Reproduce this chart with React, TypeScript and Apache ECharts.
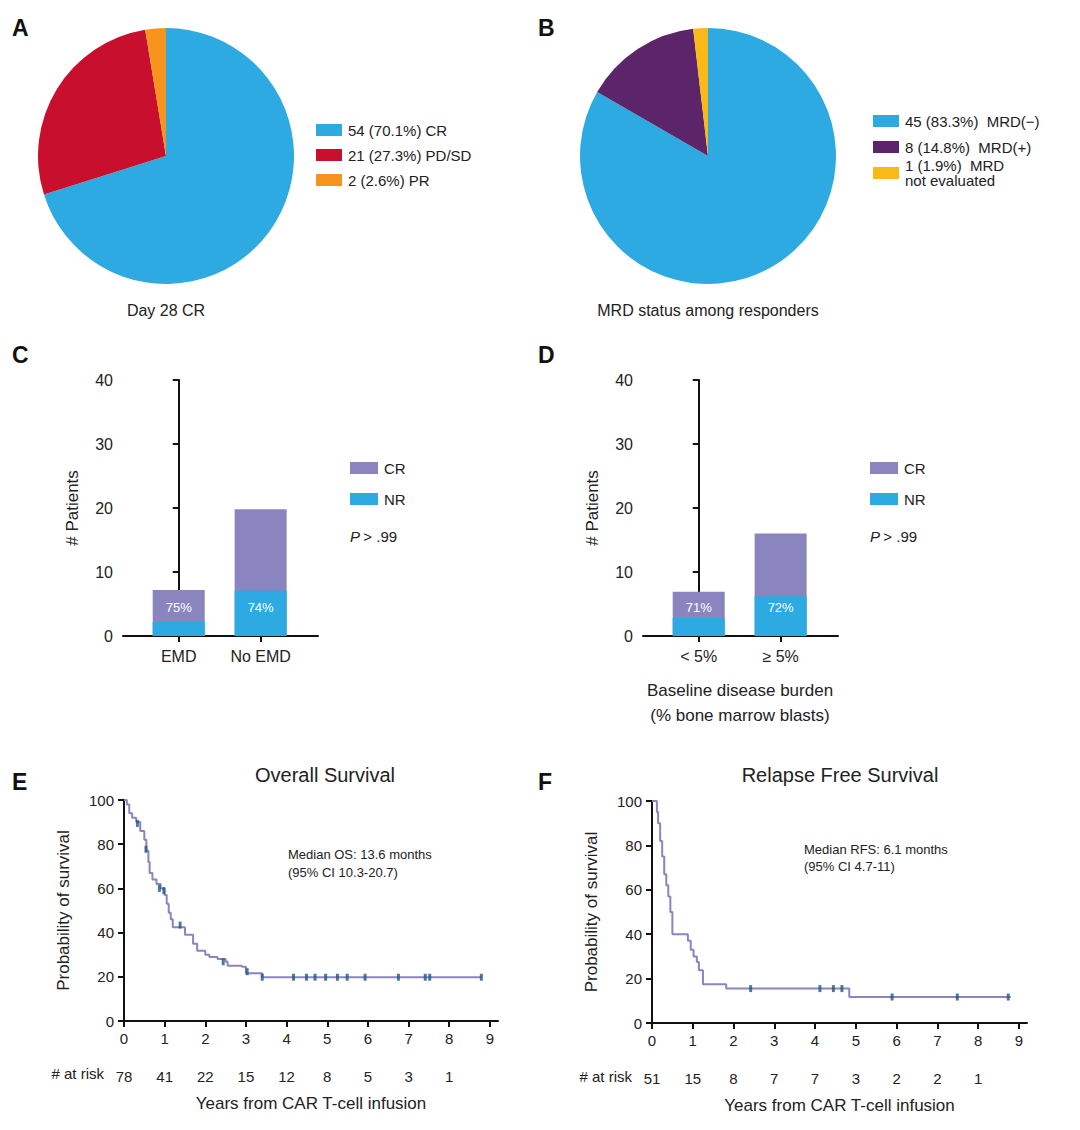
import React, { useEffect, useRef } from 'react';
import * as echarts from 'echarts';

const crNames = ['CR', 'PD/SD', 'PR'];
const crCounts = [54, 21, 2];
const crPct = ['70.1%', '27.3%', '2.6%'];
const mrdNames = ['MRD(\u2212)', 'MRD(+)', 'MRD\nnot evaluated'];
const mrdCounts = [45, 8, 1];
const mrdPct = ['83.3%', '14.8%', '1.9%'];

const emdCats = ['EMD', 'No EMD'];
const emdCR = [7.2, 19.8];
const emdNR = [2.2, 7.1];
const emdPctLabel = ['75%', '74%'];
const burdenCats = ['< 5%', '\u2265 5%'];
const burdenCR = [6.9, 16];
const burdenNR = [2.8, 6.2];
const burdenPctLabel = ['71%', '72%'];

const osCurve = [[0, 100], [0.07, 98], [0.13, 94], [0.2, 92], [0.3, 90], [0.4, 86], [0.5, 82], [0.55, 77], [0.6, 72], [0.63, 67], [0.7, 64], [0.8, 62], [0.9, 60], [1.0, 57], [1.05, 53], [1.1, 49], [1.15, 46], [1.2, 42.4], [1.45, 42.4], [1.5, 39], [1.7, 35], [1.8, 31.8], [2.0, 30], [2.1, 29], [2.3, 28], [2.5, 26.8], [2.55, 25], [2.9, 24.6], [3.0, 21.6], [3.4, 19.8], [8.8, 19.8]];
const osCensor = [[0.33, 89.4], [0.54, 77.7], [0.87, 60], [0.98, 59], [1.38, 43.4], [2.44, 26.8], [3.03, 22.3], [3.4, 19.8], [4.17, 19.8], [4.49, 19.8], [4.7, 19.8], [4.96, 19.8], [5.25, 19.8], [5.49, 19.8], [5.93, 19.8], [6.75, 19.8], [7.41, 19.8], [7.52, 19.8], [8.79, 19.8]];
const osRisk = ['78', '41', '22', '15', '12', '8', '5', '3', '1'];

const rfsCurve = [[0, 100], [0.1, 100], [0.12, 95], [0.15, 90], [0.2, 82], [0.25, 75], [0.3, 67], [0.35, 62], [0.4, 57], [0.45, 50], [0.5, 40], [0.8, 40], [0.88, 37], [0.95, 33], [1.02, 30], [1.1, 27.5], [1.15, 23.8], [1.25, 17.4], [1.8, 17.4], [1.82, 15.5], [4.82, 15.5], [4.84, 11.7], [8.8, 11.7]];
const rfsCensor = [[2.42, 15.5], [4.12, 15.5], [4.45, 15.5], [4.66, 15.5], [5.89, 11.7], [7.49, 11.7], [8.74, 11.7]];
const rfsRisk = ['51', '15', '8', '7', '7', '3', '2', '2', '1'];

const BLUE = '#2eaae2';
const RED = '#c8102e';
const ORANGE = '#f7941d';
const PURPLE = '#5c2569';
const YELLOW = '#fbb917';
const LAV = '#8a84bf';
const FONT = '"Liberation Sans", Arial, sans-serif';
const NARROW = '"Liberation Sans Narrow", "Liberation Sans", Arial, sans-serif';

function txt(x: number, y: number, text: string, extra: any = {}) {
  return { type: 'text', x, y, style: { text, fill: '#222', font: `15px ${FONT}`, ...extra } };
}

function legendItem(x: number, y: number, color: string, label: string, w = 26, h = 12) {
  return [
    { type: 'rect', shape: { x, y: y - h / 2, width: w, height: h }, style: { fill: color } },
    txt(x + w + 6, y, label, { textVerticalAlign: 'middle' }),
  ];
}

export default function App() {
  const ref = useRef<HTMLDivElement | null>(null);

  useEffect(() => {
    if (!ref.current) return;
    const chart = echarts.init(ref.current, undefined, { renderer: 'svg' });

    const barX = (gi: number, cats: string[]) => ({
      gridIndex: gi, type: 'value', min: -0.68, max: 1.7,
      axisLine: { lineStyle: { color: '#111', width: 2 } },
      axisTick: { customValues: [0, 1], length: 6, lineStyle: { color: '#111', width: 2 } },
      axisLabel: { customValues: [0, 1], formatter: (v: number) => cats[Math.round(v)], color: '#222', fontSize: 16, fontFamily: FONT, margin: 12 },
      splitLine: { show: false },
    });
    const barY = (gi: number) => ({
      gridIndex: gi, type: 'value', min: 0, max: 40, interval: 10,
      name: '# Patients', nameLocation: 'middle', nameGap: 42,
      nameTextStyle: { fontSize: 17, fontFamily: NARROW, color: '#222' },
      axisLine: { show: true, lineStyle: { color: '#111', width: 2 } },
      axisTick: { show: true, length: 6, lineStyle: { color: '#111', width: 2 } },
      axisLabel: { color: '#222', fontSize: 16, fontFamily: FONT, margin: 10 },
      splitLine: { show: false },
    });
    const kmX = (gi: number) => ({
      gridIndex: gi, type: 'value', min: 0, max: 9.2, interval: 1,
      axisLine: { lineStyle: { color: '#111', width: 2 } },
      axisTick: { length: 6, lineStyle: { color: '#111', width: 2 } },
      axisLabel: { color: '#222', fontSize: 15, fontFamily: FONT, margin: 10, showMaxLabel: false },
      splitLine: { show: false },
    });
    const riskX = (gi: number, risk: string[]) => ({
      gridIndex: gi, type: 'value', min: 0, max: 9.2, position: 'bottom', offset: 40,
      axisLine: { show: false }, axisTick: { show: false }, splitLine: { show: false },
      axisLabel: { customValues: [0, 1, 2, 3, 4, 5, 6, 7, 8], formatter: (v: number) => risk[Math.round(v)], color: '#222', fontSize: 15, fontFamily: FONT },
      name: 'Years from CAR T-cell infusion', nameLocation: 'middle', nameGap: 34,
      nameTextStyle: { fontSize: 17, fontFamily: NARROW, color: '#222' },
    });
    const kmY = (gi: number) => ({
      gridIndex: gi, type: 'value', min: 0, max: 100, interval: 20,
      name: 'Probability of survival', nameLocation: 'middle', nameGap: 52,
      nameTextStyle: { fontSize: 17, fontFamily: NARROW, color: '#222' },
      axisLine: { show: true, lineStyle: { color: '#111', width: 2 } },
      axisTick: { show: true, length: 6, lineStyle: { color: '#111', width: 2 } },
      axisLabel: { color: '#222', fontSize: 15, fontFamily: FONT, margin: 10 },
      splitLine: { show: false },
    });

    const barSeries = (xi: number, cr: number[], nr: number[], pct: string[], stack: string) => [
      {
        type: 'bar', xAxisIndex: xi, yAxisIndex: xi, stack, barWidth: 52,
        data: cr.map((v, i) => [i, v]), itemStyle: { color: LAV },
        label: { show: true, position: 'insideBottom', distance: 22, formatter: (p: any) => pct[p.dataIndex], color: '#fff', fontSize: 13, fontFamily: FONT },
      },
      { type: 'bar', xAxisIndex: xi, yAxisIndex: xi, stack, barWidth: 52, data: nr.map((v, i) => [i, v]), itemStyle: { color: BLUE } },
    ];
    const kmSeries = (gi: number, curve: number[][], censor: number[][]) => [
      { type: 'line', xAxisIndex: gi * 2, yAxisIndex: gi, step: 'end', data: curve, symbol: 'none', lineStyle: { color: LAV, width: 2 } },
      { type: 'scatter', xAxisIndex: gi * 2, yAxisIndex: gi, data: censor, symbol: 'rect', symbolSize: [3, 7], itemStyle: { color: '#1f5a8a' }, z: 5 },
    ];

    const graphics: any[] = [
      ...[['A', 12, 28], ['B', 538, 28], ['C', 12, 355], ['D', 538, 355], ['E', 12, 782], ['F', 538, 782]].map(([t, x, y]) =>
        txt(x as number, y as number, t as string, { font: `bold 23px ${FONT}`, fill: '#111', textVerticalAlign: 'middle' })),
      txt(166, 310, 'Day 28 CR', { textAlign: 'center', textVerticalAlign: 'middle', font: `16px ${FONT}` }),
      txt(708, 310, 'MRD status among responders', { textAlign: 'center', textVerticalAlign: 'middle', font: `16px ${FONT}` }),
      ...crNames.flatMap((n, i) => legendItem(316, 130 + i * 25, [BLUE, RED, ORANGE][i], `${crCounts[i]} (${crPct[i]}) ${n}`)),
      ...mrdNames.flatMap((n, i) => legendItem(873, 121 + i * 26, [BLUE, PURPLE, YELLOW][i], `${mrdCounts[i]} (${mrdPct[i]})  ${n}`, 26, 12)),
      ...['CR', 'NR'].flatMap((n, i) => legendItem(350, 468 + i * 31, [LAV, BLUE][i], n, 28, 12)),
      ...['CR', 'NR'].flatMap((n, i) => legendItem(870, 468 + i * 31, [LAV, BLUE][i], n, 28, 12)),
      {
        type: 'text', x: 350, y: 536,
        style: { rich: { i: { fontStyle: 'italic', fontSize: 15, fontFamily: FONT }, n: { fontSize: 15, fontFamily: FONT } }, text: '{i|P} {n|> .99}', fill: '#222', textVerticalAlign: 'middle' },
      },
      {
        type: 'text', x: 870, y: 536,
        style: { rich: { i: { fontStyle: 'italic', fontSize: 15, fontFamily: FONT }, n: { fontSize: 15, fontFamily: FONT } }, text: '{i|P} {n|> .99}', fill: '#222', textVerticalAlign: 'middle' },
      },
      txt(740, 690, 'Baseline disease burden', { textAlign: 'center', textVerticalAlign: 'middle', font: `17px ${NARROW}` }),
      txt(740, 715, '(% bone marrow blasts)', { textAlign: 'center', textVerticalAlign: 'middle', font: `17px ${NARROW}` }),
      txt(325, 775, 'Overall Survival', { textAlign: 'center', textVerticalAlign: 'middle', font: `20px ${FONT}` }),
      txt(840, 775, 'Relapse Free Survival', { textAlign: 'center', textVerticalAlign: 'middle', font: `20px ${FONT}` }),
      txt(288, 854, 'Median OS: 13.6 months', { textVerticalAlign: 'middle', font: `13px ${FONT}` }),
      txt(288, 872, '(95% CI 10.3-20.7)', { textVerticalAlign: 'middle', font: `13px ${FONT}` }),
      txt(804, 849, 'Median RFS: 6.1 months', { textVerticalAlign: 'middle', font: `13px ${FONT}` }),
      txt(804, 866, '(95% CI 4.7-11)', { textVerticalAlign: 'middle', font: `13px ${FONT}` }),
      txt(104, 1073, '# at risk', { textAlign: 'right', textVerticalAlign: 'middle' }),
      txt(632, 1076, '# at risk', { textAlign: 'right', textVerticalAlign: 'middle' }),
    ];

    chart.setOption({
      animation: false,
      backgroundColor: '#fff',
      textStyle: { fontFamily: FONT },
      grid: [
        { left: 123, top: 380, width: 195, height: 256 },
        { left: 643, top: 380, width: 195, height: 256 },
        { left: 124, top: 800, width: 374, height: 221 },
        { left: 652, top: 801, width: 375, height: 222 },
      ],
      xAxis: [barX(0, emdCats), barX(1, burdenCats), kmX(2), riskX(2, osRisk), kmX(3), riskX(3, rfsRisk)],
      yAxis: [barY(0), barY(1), kmY(2), kmY(3)],
      series: [
        {
          type: 'pie', center: [166, 156], radius: 128, startAngle: 90, clockwise: true, label: { show: false }, silent: true,
          data: crCounts.map((v, i) => ({ value: v, name: crNames[i], itemStyle: { color: [BLUE, RED, ORANGE][i] } })),
        },
        {
          type: 'pie', center: [708, 156], radius: 128, startAngle: 90, clockwise: true, label: { show: false }, silent: true,
          data: mrdCounts.map((v, i) => ({ value: v, name: mrdNames[i], itemStyle: { color: [BLUE, PURPLE, YELLOW][i] } })),
        },
        ...barSeries(0, emdCR, emdNR, emdPctLabel, 'c'),
        ...barSeries(1, burdenCR, burdenNR, burdenPctLabel, 'd'),
        { type: 'line', xAxisIndex: 2, yAxisIndex: 2, step: 'end', data: osCurve, symbol: 'none', lineStyle: { color: LAV, width: 2 } },
        { type: 'scatter', xAxisIndex: 2, yAxisIndex: 2, data: osCensor, symbol: 'rect', symbolSize: [3, 7], itemStyle: { color: '#1f5a8a' }, z: 5 },
        { type: 'line', xAxisIndex: 4, yAxisIndex: 3, step: 'end', data: rfsCurve, symbol: 'none', lineStyle: { color: LAV, width: 2 } },
        { type: 'scatter', xAxisIndex: 4, yAxisIndex: 3, data: rfsCensor, symbol: 'rect', symbolSize: [3, 7], itemStyle: { color: '#1f5a8a' }, z: 5 },
      ],
      graphic: graphics,
    });
    return () => { chart.dispose(); };
  }, []);

  return <div ref={ref} style={{ position: 'absolute', left: 0, top: 0, width: 1080, height: 1130 }} />;
}
